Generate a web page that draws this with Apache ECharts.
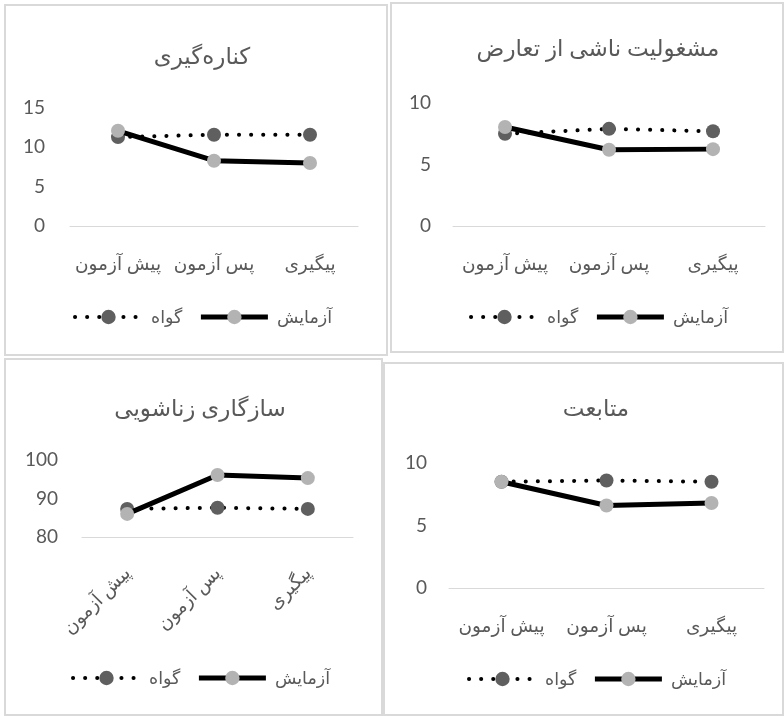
<!DOCTYPE html>
<html>
<head>
<meta charset="utf-8">
<script src="https://cdn.jsdelivr.net/npm/echarts@6/dist/echarts.min.js"></script>
<style>
html,body{margin:0;padding:0;background:#fff;}
#c{width:784px;height:716px;}
</style>
</head>
<body>
<div id="c"></div>
<script>
// ---- data ----
const categories = ['پیش آزمون', 'پس آزمون', 'پیگیری'];
const seriesNames = ['گواه', 'آزمایش'];
const titles = ['کناره‌گیری', 'مشغولیت ناشی از تعارض', 'سازگاری زناشویی', 'متابعت'];

const withdrawControl = [11.3, 11.6, 11.6];
const withdrawExperiment = [12.1, 8.3, 8.0];

const conflictControl = [7.5, 7.9, 7.7];
const conflictExperiment = [8.05, 6.2, 6.25];

const adjustControl = [87.3, 87.6, 87.3];
const adjustExperiment = [86.0, 96.1, 95.3];

const complianceControl = [8.5, 8.6, 8.5];
const complianceExperiment = [8.5, 6.6, 6.8];

const yMins = [0, 0, 80, 0];
const yMaxs = [15, 10, 100, 10];
const yIntervals = [5, 5, 10, 5];

// ---- layout / style ----
const TXT = '#595959';
const FONT = 'Lato, "DejaVu Sans", sans-serif';
const panels = [
  {rect:[5,5,382,350], grid:{left:70,right:426,top:108,bottom:490}, title:[197,40], legend:[68,303], rotate:0, lblMargin:25},
  {rect:[391,3,392,349], grid:{left:453,right:19,top:103,bottom:490}, title:[593,32], legend:[464,303], rotate:0, lblMargin:22},
  {rect:[5,359,377,356], grid:{left:82,right:431,top:460,bottom:179}, title:[195,392], legend:[66,664], rotate:45, lblMargin:24},
  {rect:[384,363,399,352], grid:{left:449,right:20,top:463,bottom:128}, title:[591,392], legend:[462,665], rotate:0, lblMargin:22}
];
const dataSets = [
  [withdrawControl, withdrawExperiment],
  [conflictControl, conflictExperiment],
  [adjustControl, adjustExperiment],
  [complianceControl, complianceExperiment]
];

const dottedStyle = {color:'#000', width:4, type:[0.1,12], cap:'round'};
const solidStyle = {color:'#000', width:5, type:'solid'};

const option = {
  animation:false,
  backgroundColor:'#fff',
  textStyle:{fontFamily:FONT},
  title: panels.map((p,i)=>({
    text:titles[i], left:p.title[0], top:p.title[1], textAlign:'center',
    textStyle:{color:TXT, fontSize:23, fontWeight:'normal', fontFamily:FONT}
  })),
  legend: panels.map((p,i)=>({
    data:[
      {name:seriesNames[0], lineStyle:dottedStyle, itemStyle:{color:'#5f5f5f'}},
      {name:seriesNames[1], lineStyle:solidStyle, itemStyle:{color:'#b3b3b3'}}
    ],
    left:p.legend[0], top:p.legend[1], orient:'horizontal',
    itemWidth:67, itemHeight:18, itemGap:16,
    textStyle:{color:TXT, fontSize:17.5, fontFamily:FONT, padding:[0,0,0,4]}
  })),
  grid: panels.map(p=>p.grid),
  xAxis: panels.map((p,i)=>({
    type:'category', gridIndex:i, data:categories, boundaryGap:true,
    axisLine:{lineStyle:{color:'#d9d9d9', width:1}},
    axisTick:{show:false},
    axisLabel:{color:TXT, fontSize:18.5, margin: p.rotate ? 33 : 29, rotate:p.rotate, interval:0, fontFamily:FONT}
  })),
  yAxis: panels.map((p,i)=>({
    type:'value', gridIndex:i, min:yMins[i], max:yMaxs[i], interval:yIntervals[i],
    axisLine:{show:false}, axisTick:{show:false}, splitLine:{show:false},
    axisLabel:{color:TXT, fontSize:19, margin:p.lblMargin, fontFamily:FONT}
  })),
  series: [],
  graphic: panels.map(p=>({
    type:'rect', shape:{x:p.rect[0], y:p.rect[1], width:p.rect[2], height:p.rect[3]},
    style:{fill:'none', stroke:'#d9d9d9', lineWidth:2}, silent:true, z:-10
  }))
};

dataSets.forEach((ds,i)=>{
  option.series.push({
    name:seriesNames[0], type:'line', xAxisIndex:i, yAxisIndex:i, data:ds[0],
    symbol:'circle', symbolSize:14,
    lineStyle:dottedStyle,
    itemStyle:{color:'#5f5f5f'}, z:2
  });
  option.series.push({
    name:seriesNames[1], type:'line', xAxisIndex:i, yAxisIndex:i, data:ds[1],
    symbol:'circle', symbolSize:14,
    lineStyle:solidStyle,
    itemStyle:{color:'#b3b3b3'}, z:3
  });
});

const chart = echarts.init(document.getElementById('c'), null, {renderer:'canvas'});
chart.setOption(option);
</script>
</body>
</html>
